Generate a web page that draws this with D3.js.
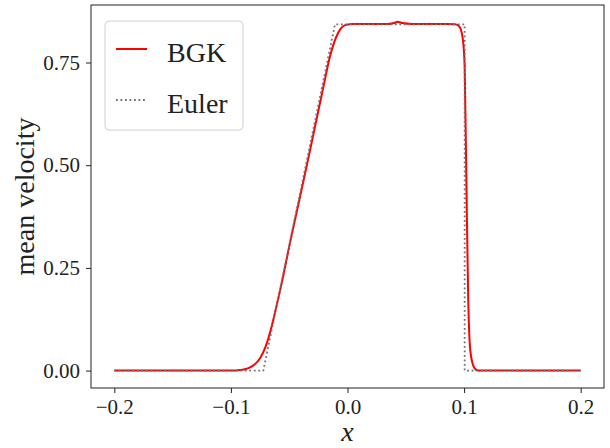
<!doctype html>
<html>
<head>
<meta charset="utf-8">
<script src="https://cdn.jsdelivr.net/npm/d3@7"></script>
<style>
  html, body { margin: 0; padding: 0; background: #fff; }
  svg { display: block; }
</style>
</head>
<body>
<script>
// --- data ---
const bgkX = [-0.2, -0.1, -0.095, -0.09, -0.085, -0.08, -0.075, -0.07, -0.065, -0.06, -0.055, -0.05, -0.04,
  -0.03, -0.02, -0.015, -0.01, -0.006, -0.002, 0.005, 0.02, 0.035, 0.04, 0.043, 0.047, 0.055,
  0.085, 0.092, 0.095, 0.097, 0.099, 0.1005, 0.102, 0.1035, 0.105, 0.107, 0.109, 0.111, 0.115, 0.2];
const bgkU = [0, 0, 0.0005, 0.002, 0.006, 0.014, 0.03, 0.06, 0.108, 0.168, 0.232, 0.302, 0.432,
  0.565, 0.70, 0.765, 0.81, 0.832, 0.841, 0.844, 0.844, 0.844, 0.846, 0.849, 0.846, 0.844,
  0.844, 0.843, 0.840, 0.832, 0.805, 0.74, 0.45, 0.18, 0.06, 0.02, 0.006, 0.001, 0, 0];

const eulerX = [-0.2, -0.0722, -0.0107, 0.1005, 0.1005, 0.2];
const eulerU = [0, 0, 0.843, 0.843, 0, 0];

const xTicks = [-0.2, -0.1, 0.0, 0.1, 0.2];
const yTicks = [0, 0.25, 0.5, 0.75];
const seriesNames = ["BGK", "Euler"];

const width = 610, height = 448;
const plot = { left: 91, right: 604, top: 5, bottom: 388 };
const FONT = "'Liberation Serif', 'DejaVu Serif', serif";

const x = d3.scaleLinear().domain([-0.22, 0.22]).range([plot.left, plot.right]);
const y = d3.scaleLinear().domain([-0.0424, 0.890]).range([plot.bottom, plot.top]);

const svg = d3.select("body").append("svg")
  .attr("width", width).attr("height", height)
  .style("font-family", FONT);

svg.append("rect").attr("width", width).attr("height", height).attr("fill", "white");

const fmtMinus = (s) => s.replace("-", "\u2212");

// x axis
const gx = svg.append("g")
  .attr("transform", `translate(0,${plot.bottom})`)
  .call(d3.axisBottom(x).tickValues(xTicks).tickSize(5).tickPadding(6)
    .tickFormat((d) => fmtMinus(d3.format(".1f")(d))));
gx.select(".domain").remove();
gx.selectAll(".tick line").attr("stroke", "#222");
gx.selectAll("text").attr("font-size", 21).attr("font-family", FONT).attr("fill", "#222");

// y axis
const gy = svg.append("g")
  .attr("transform", `translate(${plot.left},0)`)
  .call(d3.axisLeft(y).tickValues(yTicks).tickSize(5).tickPadding(6)
    .tickFormat(d3.format(".2f")));
gy.select(".domain").remove();
gy.selectAll(".tick line").attr("stroke", "#222");
gy.selectAll("text").attr("font-size", 21).attr("font-family", FONT).attr("fill", "#222");

// lines
const bgk = bgkX.map((v, i) => [v, bgkU[i]]);
const euler = eulerX.map((v, i) => [v, eulerU[i]]);

svg.append("path")
  .datum(bgk)
  .attr("fill", "none")
  .attr("stroke", "#ff0000")
  .attr("stroke-width", 2)
  .attr("stroke-linejoin", "round")
  .attr("d", d3.line().x((d) => x(d[0])).y((d) => y(d[1])).curve(d3.curveMonotoneX));

svg.append("path")
  .datum(euler)
  .attr("fill", "none")
  .attr("stroke", "#707070")
  .attr("stroke-width", 1.8)
  .attr("stroke-dasharray", "1.8,2.7")
  .attr("d", d3.line().x((d) => x(d[0])).y((d) => y(d[1])));

// frame
svg.append("rect")
  .attr("x", plot.left).attr("y", plot.top)
  .attr("width", plot.right - plot.left).attr("height", plot.bottom - plot.top)
  .attr("fill", "none").attr("stroke", "#222").attr("stroke-width", 1);

// legend
const lg = svg.append("g");
lg.append("rect")
  .attr("x", 105).attr("y", 21).attr("width", 138).attr("height", 109)
  .attr("rx", 4).attr("fill", "white").attr("fill-opacity", 0.8)
  .attr("stroke", "#d0d0d0").attr("stroke-width", 1);
const legendRows = [
  { name: seriesNames[0], y: 49, stroke: "#ff0000", w: 2, dash: null },
  { name: seriesNames[1], y: 100, stroke: "#707070", w: 1.8, dash: "1.8,2.7" },
];
legendRows.forEach((r) => {
  lg.append("line")
    .attr("x1", 116).attr("x2", 147).attr("y1", r.y).attr("y2", r.y)
    .attr("stroke", r.stroke).attr("stroke-width", r.w)
    .attr("stroke-dasharray", r.dash);
  lg.append("text")
    .attr("x", 167).attr("y", r.y + 13)
    .attr("font-size", 28).attr("fill", "#222")
    .text(r.name);
});

// axis labels
svg.append("text")
  .attr("x", (plot.left + plot.right) / 2).attr("y", 441)
  .attr("text-anchor", "middle").attr("font-size", 28)
  .attr("font-style", "italic").attr("fill", "#222")
  .text("x");

svg.append("text")
  .attr("transform", `translate(34,${(plot.top + plot.bottom) / 2}) rotate(-90)`)
  .attr("text-anchor", "middle").attr("font-size", 28).attr("fill", "#222")
  .text("mean velocity");
</script>
</body>
</html>
